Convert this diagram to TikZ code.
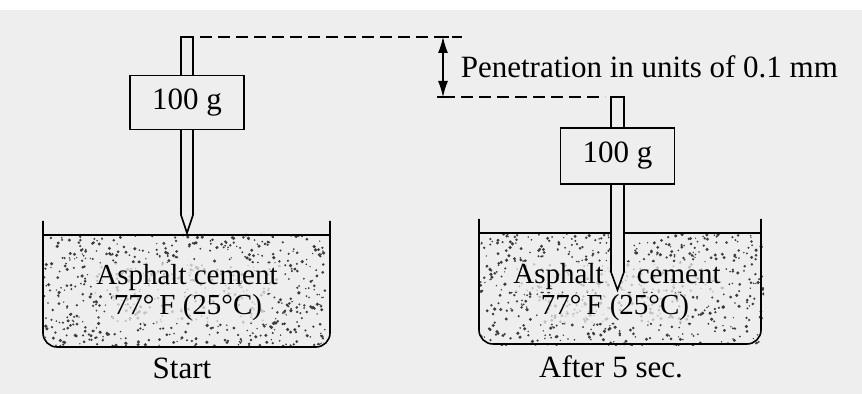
\documentclass[tikz,border=0pt]{standalone}
\usepackage{fontspec}
\setmainfont{Liberation Serif}
\usetikzlibrary{arrows.meta}
\definecolor{paper}{RGB}{238,238,238}
\definecolor{speck}{RGB}{60,60,60}

\tikzset{
  weight/.style={draw, fill=paper, line width=0.8pt, minimum width=57pt, minimum height=27pt, font=\fontsize{15.5}{18}\selectfont},
  txt/.style={font=\fontsize{15.5}{18}\selectfont, inner sep=1pt},
  intxt/.style={font=\fontsize{14.5}{17}\selectfont, inner sep=1pt, fill=paper, fill opacity=0.75, text opacity=1},
  guide/.style={dash pattern=on 6pt off 3pt, line width=0.6pt},
}

\begin{document}
\begin{tikzpicture}[x=0.5pt, y=-0.5pt, line width=0.8pt]
		  % Background
		  \useasboundingbox (0,0) rectangle (862,394);
		  \fill[white] (0,0) rectangle (862,394);
		  \fill[paper] (0,10) rectangle (862,394);

		  % Asphalt specks
		  \pgfmathsetseed{42}
		  \foreach \xa in {44, 480} {
		    \begin{scope}
		      \clip[rounded corners=7pt] (\xa,234) -- (\xa,346) -- (\xa+284,346) -- (\xa+284,234) -- cycle;
		      \foreach \i in {1,...,700}
		        \fill[speck] ({\xa+284*rnd},{234+112*rnd}) circle ({0.35pt+0.55pt*rnd});
		    \end{scope}
		  }

		  % Containers
		  \draw[rounded corners=7pt] (43,221) -- (43,347) -- (330,347) -- (330,221); % left pan
		  \draw (43,235) -- (330,235); % left surface
		  \draw[rounded corners=7pt] (479,219) -- (479,344) -- (761,344) -- (761,219); % right pan
		  \draw (479,233) -- (761,233); % right surface

		  % Texts in the asphalt
		  \node[intxt] (acL) at (187,278) {Asphalt cement};
		  \node[intxt] (tL) at (188,308) {77°\,F (25°C)};
		  \node[intxt] (acR) at (617,277) {Asphalt\hspace{13pt} cement};
		  \node[intxt] (tR) at (615,308) {77°\,F (25°C)};

		  % Needles
		  \draw[fill=paper] (181,215) -- (181,37) -- (193,37) -- (193,215) -- (187,233) -- cycle; % at start
		  \draw[fill=paper] (611,272) -- (611,97) -- (624,97) -- (624,272) -- (617.5,290) -- cycle; % after 5 sec

		  % Weights
		  \node[weight] (wL) at (187,102.5) {100 g};
		  \node[weight, minimum height=28pt] (wR) at (617.5,156) {100 g};

		  % Penetration
		  \coordinate (pTop) at (443,37);
		  \coordinate (pBot) at (443,97);
		  \draw[guide] (200,37) -- (462,37); % level at start
		  \draw[guide] (pBot) -- (605,97); % level after 5 sec
		  \draw[line width=0.6pt] (437,37) -- (449,37) (437,97) -- (449,97);
		  \draw[{Latex[length=8pt,width=5pt]}-{Latex[length=8pt,width=5pt]}, line width=0.6pt] (pTop) -- (pBot);
		  \node[txt, anchor=west] (pen) at (458,67) {Penetration in units of 0.1 mm};

		  % Captions
		  \node[txt] (start) at (182,368) {Start};
		  \node[txt] (after) at (611,367) {After 5 sec.};
		\end{tikzpicture}
\end{document}
